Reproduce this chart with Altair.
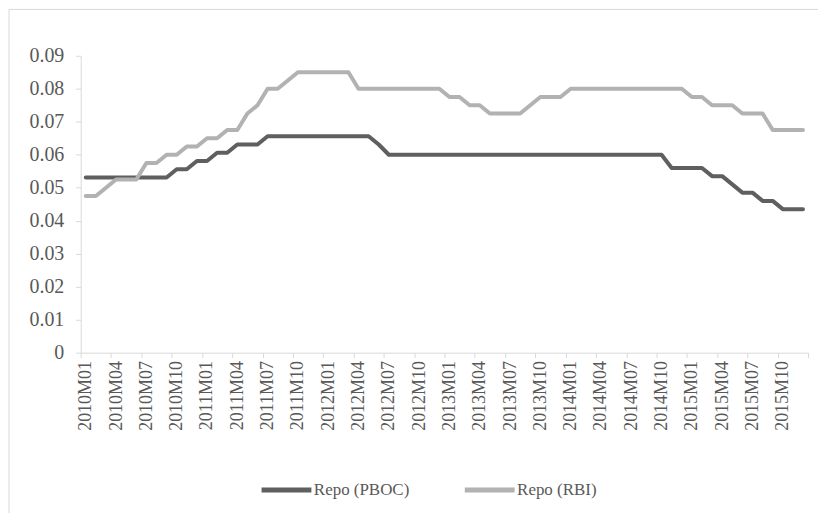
import json
import altair as alt
import pandas as pd

years = [2010, 2011, 2012, 2013, 2014, 2015]
month_nums = ["01", "02", "03", "04", "05", "06", "07", "08", "09", "10", "11", "12"]
months = [f"{y}M{m}" for y in years for m in month_nums]

pboc = [
    0.0531, 0.0531, 0.0531, 0.0531, 0.0531, 0.0531, 0.0531, 0.0531, 0.0531,
    0.0556, 0.0556, 0.0581, 0.0581, 0.0606, 0.0606, 0.0631, 0.0631, 0.0631,
    0.0656, 0.0656, 0.0656, 0.0656, 0.0656, 0.0656, 0.0656, 0.0656, 0.0656,
    0.0656, 0.0656, 0.0631,
    0.0600, 0.0600, 0.0600, 0.0600, 0.0600, 0.0600, 0.0600, 0.0600, 0.0600,
    0.0600, 0.0600, 0.0600, 0.0600, 0.0600, 0.0600, 0.0600, 0.0600, 0.0600,
    0.0600, 0.0600, 0.0600, 0.0600, 0.0600, 0.0600, 0.0600, 0.0600, 0.0600,
    0.0600,
    0.0560, 0.0560, 0.0560, 0.0560, 0.0535, 0.0535, 0.0510, 0.0485, 0.0485,
    0.0460, 0.0460, 0.0435, 0.0435, 0.0435,
]

rbi = [
    0.0475, 0.0475, 0.0500, 0.0525, 0.0525, 0.0525, 0.0575, 0.0575, 0.0600,
    0.0600, 0.0625, 0.0625, 0.0650, 0.0650, 0.0675, 0.0675, 0.0725, 0.0750,
    0.0800, 0.0800, 0.0825, 0.0850, 0.0850, 0.0850, 0.0850, 0.0850, 0.0850,
    0.0800, 0.0800, 0.0800, 0.0800, 0.0800, 0.0800, 0.0800, 0.0800, 0.0800,
    0.0775, 0.0775, 0.0750, 0.0750, 0.0725, 0.0725, 0.0725, 0.0725, 0.0750,
    0.0775, 0.0775, 0.0775,
    0.0800, 0.0800, 0.0800, 0.0800, 0.0800, 0.0800, 0.0800, 0.0800, 0.0800,
    0.0800, 0.0800, 0.0800,
    0.0775, 0.0775, 0.0750, 0.0750, 0.0750, 0.0725, 0.0725, 0.0725,
    0.0675, 0.0675, 0.0675, 0.0675,
]

series_names = ["Repo (PBOC)", "Repo (RBI)"]
series_colors = ["#5f5f5f", "#b2b2b2"]
y_ticks = [0, 0.01, 0.02, 0.03, 0.04, 0.05, 0.06, 0.07, 0.08, 0.09]

rows = []
for i, m in enumerate(months):
    rows.append({"idx": i, "month": m, "series": series_names[0], "value": pboc[i]})
    rows.append({"idx": i, "month": m, "series": series_names[1], "value": rbi[i]})
df = pd.DataFrame(rows)

W, H = 730, 298
n = len(months)
cat_w = W / n
tick_vals = [k - 0.5 for k in range(0, n + 1, 3)]
label_expr = f"{json.dumps(months)}[datum.value + 0.5] || ''"

FONT = "'Liberation Serif', 'Times New Roman', serif"
TXT = "#595959"
AXC = "#d9d9d9"

lines = alt.Chart(df).mark_line(strokeWidth=4, strokeCap="round", strokeJoin="round").encode(
    x=alt.X(
        "idx:Q",
        scale=alt.Scale(domain=[-0.5, n - 0.5], nice=False, zero=False),
        axis=alt.Axis(
            title=None,
            values=tick_vals,
            labelExpr=label_expr,
            labelAngle=270,
            labelOffset=cat_w / 2,
            labelPadding=3,
            tickSize=5,
            labelFontSize=18,
            labelFlush=False,
            labelOverlap=False,
            labelBound=False,
            grid=False,
        ),
    ),
    y=alt.Y(
        "value:Q",
        scale=alt.Scale(domain=[0, 0.09], nice=False),
        axis=alt.Axis(
            title=None,
            values=y_ticks,
            format=".2~f",
            tickSize=5,
            labelPadding=12,
            labelFontSize=20,
            grid=False,
        ),
    ),
    color=alt.Color(
        "series:N",
        scale=alt.Scale(domain=series_names, range=series_colors),
        legend=alt.Legend(
            title=None,
            orient="none",
            direction="horizontal",
            legendX=179,
            legendY=408,
            symbolType="stroke",
            symbolSize=2500,
            symbolStrokeWidth=5,
            labelOffset=0,
            columnPadding=45,
            padding=0,
            labelFont=FONT,
            labelFontSize=17,
            labelColor=TXT,
        ),
    ),
    order="idx:Q",
)

border = alt.Chart(pd.DataFrame({"a": [0]})).mark_rect(
    fill=None, stroke=AXC, strokeWidth=1
).encode(
    x=alt.value(-72),
    x2=alt.value(W + 40),
    y=alt.value(-46.5),
    y2=alt.value(H + 200),
)

chart = alt.layer(border, lines).properties(
    width=W,
    height=H,
    autosize=alt.AutoSizeParams(type="none"),
    padding={"left": 73, "top": 47, "right": 10, "bottom": 160},
).configure_view(stroke=None).configure_axis(
    labelFont=FONT,
    labelColor=TXT,
    domainColor=AXC,
    tickColor=AXC,
)

chart.save("out.html", embed_options={"renderer": "svg", "actions": False})
